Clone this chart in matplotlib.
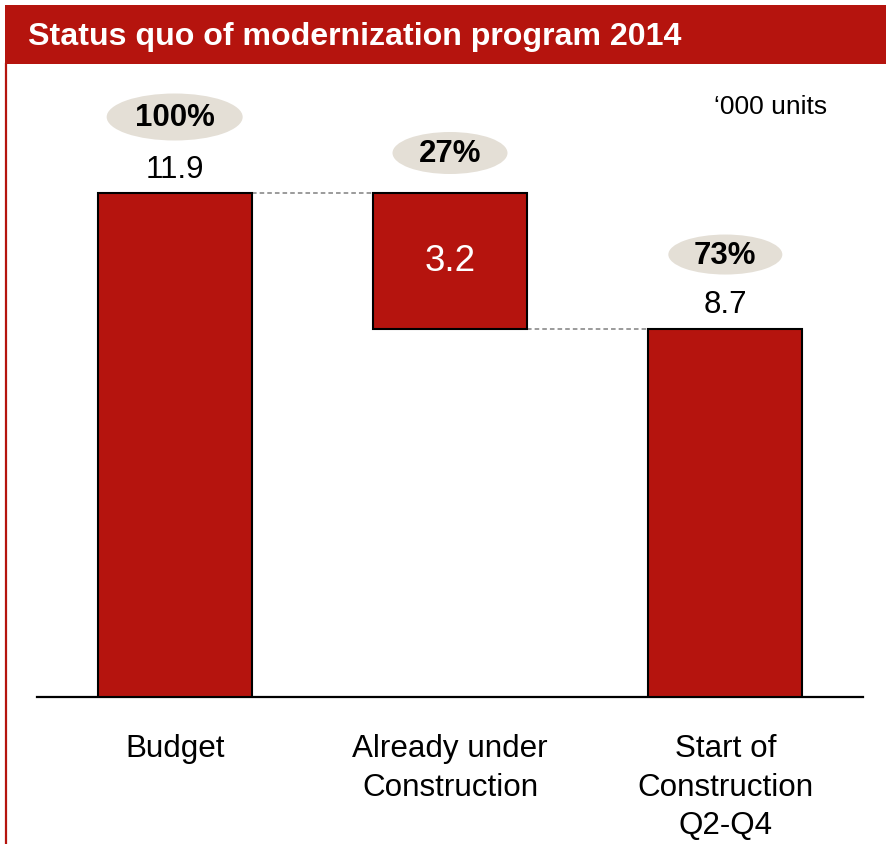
import matplotlib
matplotlib.use("Agg")
import matplotlib.pyplot as plt
from matplotlib.patches import Rectangle, Ellipse
from matplotlib.lines import Line2D

plt.rcParams['font.family'] = ['Liberation Sans', 'DejaVu Sans']

# ---- data ----
title = "Status quo of modernization program 2014"
unit_label = "\u2018000 units"
categories = ["Budget", "Already under\nConstruction", "Start of\nConstruction\nQ2-Q4"]
values = [11.9, 3.2, 8.7]
bottoms = [0.0, 8.7, 0.0]
shares = ["100%", "27%", "73%"]

RED = "#B5140E"
BEIGE = "#E4DFD6"

W, H, DPI = 886, 845, 100
fig = plt.figure(figsize=(W / DPI, H / DPI), dpi=DPI)

def fx(px):
    return px / W

def fy(py):
    return 1 - py / H

# header band and left frame line
fig.add_artist(Rectangle((fx(5), fy(65)), fx(886) - fx(5), fy(6) - fy(65),
                         transform=fig.transFigure, facecolor=RED, edgecolor='none'))
fig.add_artist(Line2D([fx(6), fx(6)], [fy(65), fy(845)], transform=fig.transFigure,
                      color=RED, lw=1.6))
fig.text(fx(28), fy(37), title, color='white', fontsize=23.1, fontweight='bold',
         ha='left', va='center')
fig.text(fx(827), fy(107), unit_label, color='black', fontsize=19, ha='right', va='center')

# axes: x from 37 to 863 px, baseline at 698 px
ax_left, ax_right = 37, 863
ax_bottom, ax_top = 698, 66
ax = fig.add_axes([fx(ax_left), fy(ax_bottom), fx(ax_right) - fx(ax_left), fy(ax_top) - fy(ax_bottom)])
ax.set_xlim(-0.5, 2.5)
ppu_y = 504 / 11.9  # pixels per unit
ymax = (ax_bottom - ax_top) / ppu_y
ax.set_ylim(0, ymax)
ppu_x = (ax_right - ax_left) / 3.0

for s in ['left', 'right', 'top']:
    ax.spines[s].set_visible(False)
ax.spines['bottom'].set_linewidth(1.6)
ax.spines['bottom'].set_color('black')
ax.set_yticks([])
ax.set_xticks(range(len(categories)))
ax.set_xticklabels(categories, fontsize=22.6, linespacing=1.37, va='top')
ax.tick_params(axis='x', length=0, pad=26)

bw = 0.56
x = list(range(len(categories)))
ax.bar(x, values, bottom=bottoms, width=bw, color=RED, edgecolor='black', linewidth=1.5, zorder=3)

# connectors
tops = [b + v for b, v in zip(bottoms, values)]
ax.plot([0 + bw / 2, 1 - bw / 2], [tops[0], tops[0]], ls=(0, (3, 2)), color='#808080', lw=1.1, zorder=2)
ax.plot([1 + bw / 2, 2 - bw / 2], [bottoms[1], bottoms[1]], ls=(0, (3, 2)), color='#808080', lw=1.1, zorder=2)

# value labels
ax.annotate(f"{values[0]}", (0, tops[0]), xytext=(0, 24), textcoords='offset pixels',
            ha='center', va='center', fontsize=22.5)
ax.annotate(f"{values[1]}", (1, bottoms[1] + values[1] / 2), ha='center', va='center',
            fontsize=26.5, color='white', zorder=4)
ax.annotate(f"{values[2]}", (2, tops[2]), xytext=(0, 25), textcoords='offset pixels',
            ha='center', va='center', fontsize=22.5)

# share ellipses
ell_off = [76, 40, 74]
ell_w = [136, 115, 114]
ell_h = [47, 42, 40]
for i in range(3):
    cy = tops[i] + ell_off[i] / ppu_y
    e = Ellipse((i, cy), ell_w[i] / ppu_x, ell_h[i] / ppu_y, facecolor=BEIGE,
                edgecolor='none', zorder=3, clip_on=False)
    ax.add_patch(e)
    ax.text(i, cy, shares[i], ha='center', va='center', fontsize=22.5,
            fontweight='bold', zorder=4)

fig.savefig("out.png", dpi=DPI)
